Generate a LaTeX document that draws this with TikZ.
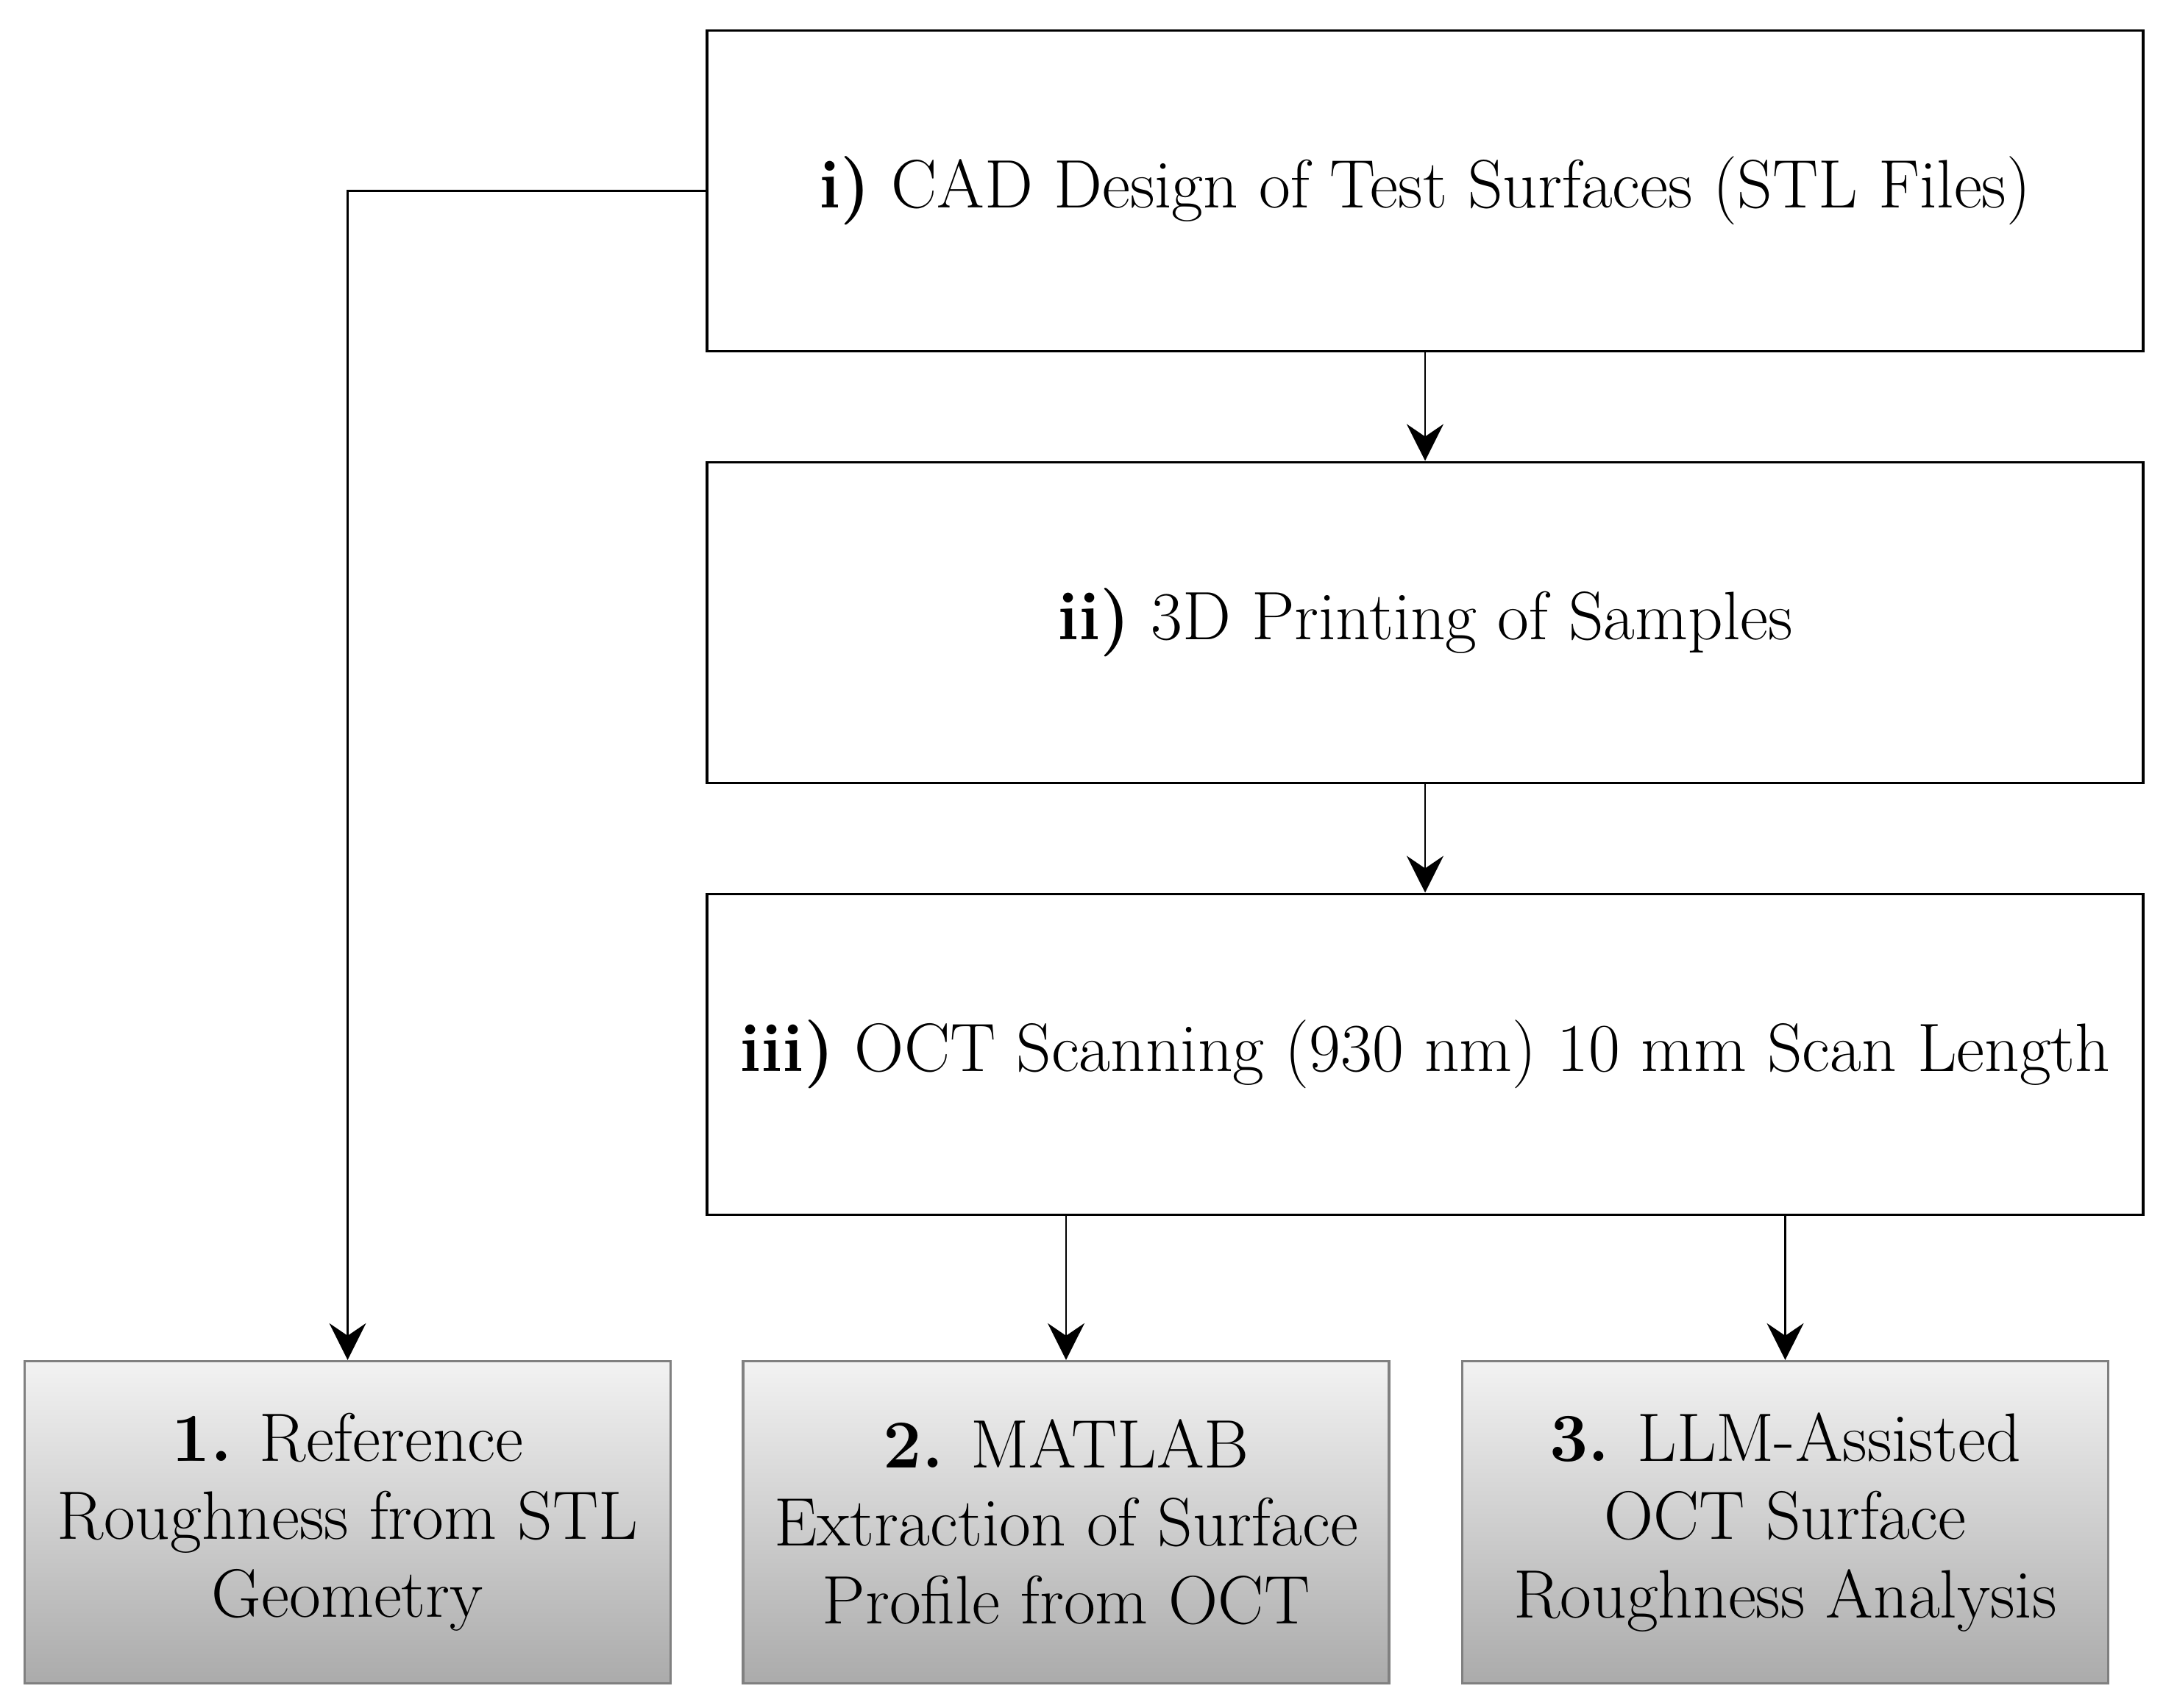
\documentclass[tikz,border=0pt]{standalone}
\usetikzlibrary{arrows.meta}

\begin{document}
\begin{tikzpicture}[
  stage/.style={draw, line width=1.1pt, fill=white, minimum width=19.52cm, minimum height=4.36cm, inner sep=0pt, font=\fontsize{26.5}{30}\selectfont},
  outcome/.style={draw=black!50, line width=0.9pt, top color=black!5, bottom color=black!33, minimum width=8.78cm, minimum height=4.38cm, inner sep=0pt, align=center, font=\fontsize{26.5}{30.2}\selectfont},
  flow/.style={line width=0.6pt, -{Stealth[length=5mm, width=5mm, inset=1.7mm]}}
]
\useasboundingbox (0,0) rectangle (29.59,23.22);
\node [stage] (cad) at (19.37,20.625) {\textbf{i)} CAD Design of Test Surfaces (STL Files)};
\node [stage] (print) at (19.37,14.755) {\textbf{ii)} 3D Printing of Samples};
\node [stage] (oct) at (19.37,8.885) {\textbf{iii)} OCT Scanning (930 nm) 10 mm Scan Length};
\node [outcome] (ref) at (4.725,2.525) {\textbf{1.} Reference\\Roughness from STL\\Geometry};
\node [outcome] (matlab) at (14.49,2.525) {\textbf{2.} MATLAB\\Extraction of Surface\\Profile from OCT};
\node [outcome] (llm) at (24.265,2.525) {\textbf{3.} LLM-Assisted\\OCT Surface\\Roughness Analysis};
\draw [flow] (cad) -- (print);
\draw [flow] (print) -- (oct);
\draw [flow] (cad.west) -| (ref.north);
\draw [flow] (oct.south -| matlab.north) -- (matlab.north);
\draw [flow] (oct.south -| llm.north) -- (llm.north);
\end{tikzpicture}
\end{document}
